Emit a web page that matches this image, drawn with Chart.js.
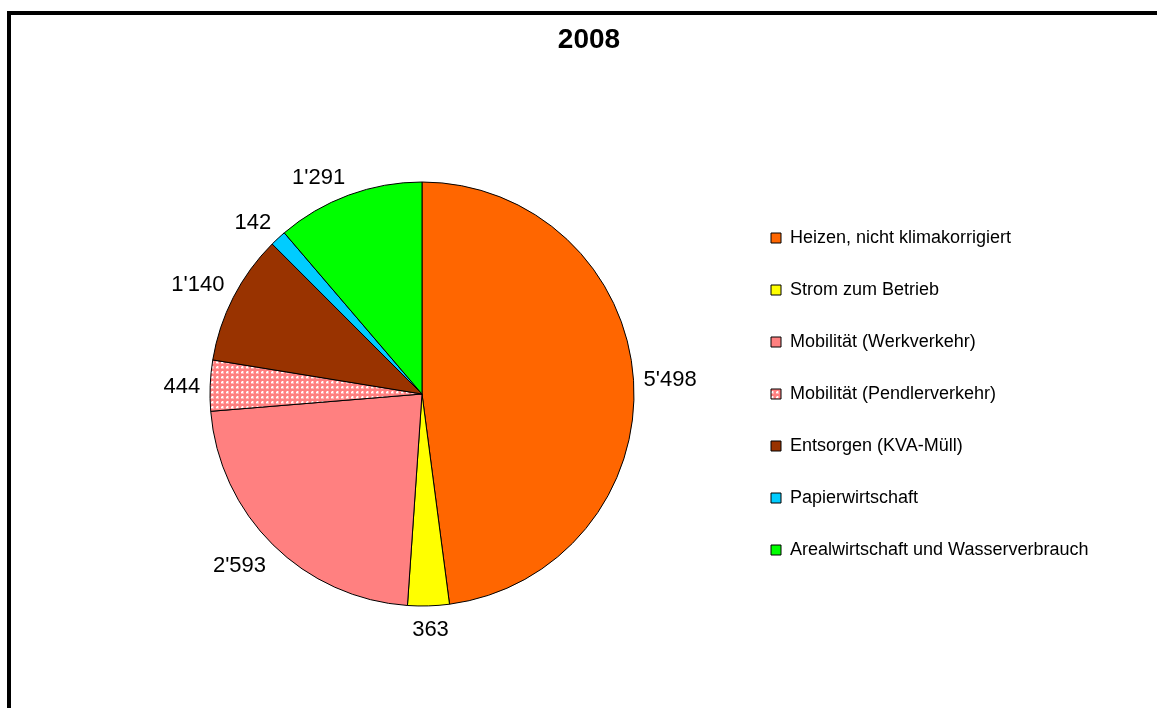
<!DOCTYPE html>
<html>
<head>
<meta charset="utf-8">
<script src="https://cdn.jsdelivr.net/npm/chart.js@4.4.1/dist/chart.umd.min.js"></script>
<style>
  html, body { margin: 0; padding: 0; background: #fff; }
  #wrap { position: relative; width: 1157px; height: 708px; overflow: hidden; }
  #wrap canvas { position: absolute; left: 0; top: 0; }
  #frame {
    position: absolute; left: 7px; top: 11px; width: 1200px; height: 800px;
    border-left: 4px solid #000; border-top: 4px solid #000; pointer-events: none;
  }
</style>
</head>
<body>
<div id="wrap">
  <canvas id="chart" width="1157" height="708"></canvas>
  <div id="frame"></div>
</div>
<script>
// CO2 emissions by source, 2008
const chartTitle = '2008';
const categories = [
  'Heizen, nicht klimakorrigiert',
  'Strom zum Betrieb',
  'Mobilität (Werkverkehr)',
  'Mobilität (Pendlerverkehr)',
  'Entsorgen (KVA-Müll)',
  'Papierwirtschaft',
  'Arealwirtschaft und Wasserverbrauch'
];
const values = [5498, 363, 2593, 444, 1140, 142, 1291];
const sliceColors = ['#FF6600', '#FFFF00', '#FF8080', '#FF8080', '#993300', '#00CCFF', '#00FF00'];
const dottedSlices = [3];

const FONT = "'Liberation Sans', Arial, Helvetica, sans-serif";

// white dot grid on a coloured tile
function dotPattern(base) {
  const t = document.createElement('canvas');
  t.width = 5; t.height = 5;
  const g = t.getContext('2d');
  g.fillStyle = base;
  g.fillRect(0, 0, 5, 5);
  g.fillStyle = 'rgba(255,255,255,0.4)';
  g.fillRect(1, 1, 3, 3);
  g.fillStyle = '#FFFFFF';
  g.fillRect(2, 2, 1, 1);
  g.fillRect(1, 2, 1, 1);
  g.fillRect(2, 1, 1, 1);
  return g.createPattern(t, 'repeat');
}

const fills = sliceColors.map((c, i) => dottedSlices.includes(i) ? dotPattern(c) : c);

function swissNumber(v) {
  return String(v).replace(/\B(?=(\d{3})+(?!\d))/g, "'");
}

// let the legend text run past its narrowed box instead of being clipped
const legendOverflow = {
  id: 'legendOverflow',
  afterLayout(chart) {
    const lg = chart.legend;
    if (lg) {
      lg.right = chart.width;
      lg.width = lg.right - lg.left;
    }
  }
};

// value labels placed just outside each slice
const outsideLabels = {
  id: 'outsideLabels',
  afterDatasetsDraw(chart) {
    const ctx = chart.ctx;
    const meta = chart.getDatasetMeta(0);
    const fontSize = 22;
    ctx.save();
    ctx.font = fontSize + 'px ' + FONT;
    ctx.fillStyle = '#000';
    ctx.textAlign = 'center';
    ctx.textBaseline = 'middle';
    const clamp = t => Math.max(-1, Math.min(1, t));
    meta.data.forEach((arc, i) => {
      const p = arc.getProps(['x', 'y', 'startAngle', 'endAngle', 'outerRadius'], true);
      const mid = (p.startAngle + p.endAngle) / 2;
      const ux = Math.cos(mid), uy = Math.sin(mid);
      const text = swissNumber(chart.data.datasets[0].data[i]);
      const w = ctx.measureText(text).width;
      const h = fontSize;
      const d = p.outerRadius + 10;
      const cx = p.x + ux * d + clamp(ux * 3) * w / 2;
      const cy = p.y + uy * d + clamp(uy * 3) * h / 2;
      ctx.fillText(text, cx, cy + 3);
    });
    ctx.restore();
  }
};

new Chart(document.getElementById('chart'), {
  type: 'pie',
  data: {
    labels: categories,
    datasets: [{
      data: values,
      backgroundColor: fills,
      borderColor: '#000',
      borderWidth: 1
    }]
  },
  options: {
    responsive: false,
    animation: false,
    events: [],
    radius: 212,
    layout: { padding: { top: 10, bottom: 8, left: 107, right: 86 } },
    plugins: {
      title: {
        display: true,
        text: chartTitle,
        color: '#000',
        font: { family: FONT, size: 28, weight: 'bold', lineHeight: 1.0 },
        padding: { top: 16, bottom: 34 }
      },
      legend: {
        display: true,
        position: 'right',
        fullSize: false,
        maxWidth: 334,
        labels: {
          color: '#000',
          font: { family: FONT, size: 18 },
          boxWidth: 10,
          boxHeight: 10,
          padding: 34
        }
      },
      tooltip: { enabled: false }
    }
  },
  plugins: [legendOverflow, outsideLabels]
});
</script>
</body>
</html>
